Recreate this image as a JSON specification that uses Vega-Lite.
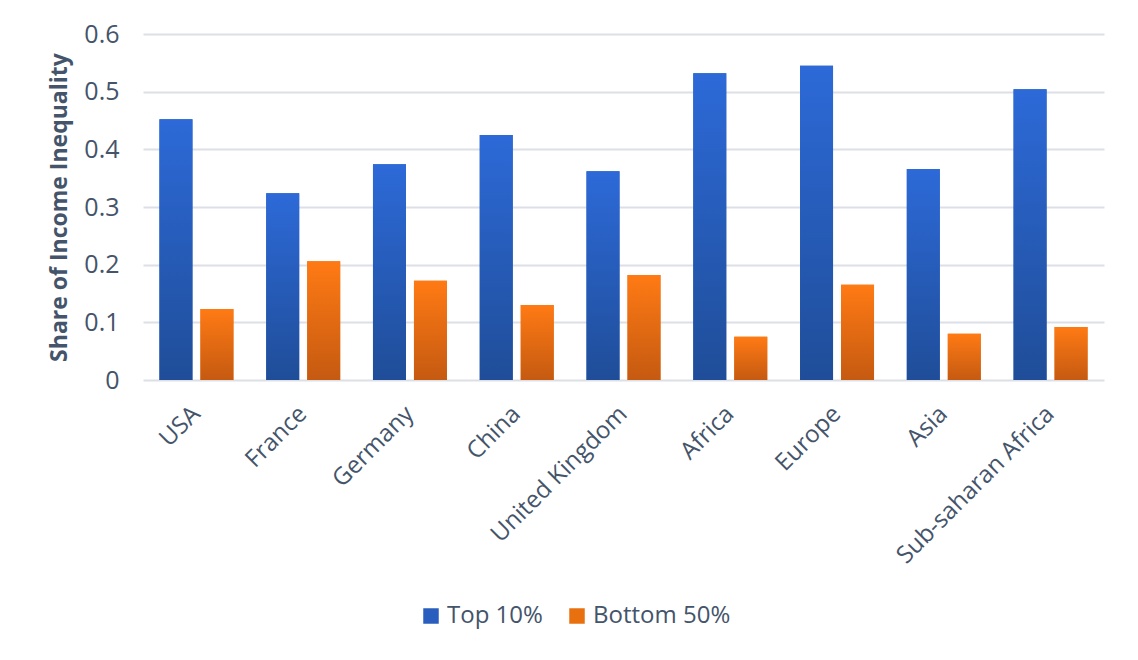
{
  "$schema": "https://vega.github.io/schema/vega-lite/v6.json",
  "width": 961,
  "height": 346,
  "autosize": {"type": "none"},
  "padding": {"left": 143, "top": 34, "right": 34, "bottom": 280},
  "background": "#ffffff",
  "config": {
    "font": "Open Sans",
    "view": {"stroke": null},
    "axis": {"labelColor": "#44546A", "titleColor": "#44546A"}
  },
  "data": {
    "values": [
      {"country": "USA", "series": "Top 10%", "value": 0.452},
      {"country": "USA", "series": "Bottom 50%", "value": 0.123},
      {"country": "France", "series": "Top 10%", "value": 0.324},
      {"country": "France", "series": "Bottom 50%", "value": 0.206},
      {"country": "Germany", "series": "Top 10%", "value": 0.374},
      {"country": "Germany", "series": "Bottom 50%", "value": 0.172},
      {"country": "China", "series": "Top 10%", "value": 0.425},
      {"country": "China", "series": "Bottom 50%", "value": 0.130},
      {"country": "United Kingdom", "series": "Top 10%", "value": 0.362},
      {"country": "United Kingdom", "series": "Bottom 50%", "value": 0.182},
      {"country": "Africa", "series": "Top 10%", "value": 0.532},
      {"country": "Africa", "series": "Bottom 50%", "value": 0.075},
      {"country": "Europe", "series": "Top 10%", "value": 0.545},
      {"country": "Europe", "series": "Bottom 50%", "value": 0.165},
      {"country": "Asia", "series": "Top 10%", "value": 0.366},
      {"country": "Asia", "series": "Bottom 50%", "value": 0.080},
      {"country": "Sub-saharan Africa", "series": "Top 10%", "value": 0.504},
      {"country": "Sub-saharan Africa", "series": "Bottom 50%", "value": 0.092}
    ]
  },
  "encoding": {
    "x": {
      "field": "country",
      "type": "nominal",
      "sort": null,
      "scale": {"paddingInner": 0.307, "paddingOuter": 0.154},
      "axis": {
        "title": null,
        "labelAngle": -45,
        "labelAlign": "right",
        "labelBaseline": "middle",
        "labelFontSize": 24,
        "labelPadding": 30,
        "labelLimit": 400,
        "ticks": false,
        "domain": false,
        "grid": false
      }
    },
    "xOffset": {
      "field": "series",
      "type": "nominal",
      "sort": ["Top 10%", "Bottom 50%"],
      "scale": {"paddingInner": 0.195, "paddingOuter": 0}
    },
    "y": {
      "field": "value",
      "type": "quantitative",
      "scale": {"domain": [0, 0.6], "nice": false},
      "axis": {
        "title": "Share of Income Inequality",
        "titleFontSize": 23,
        "titleFontWeight": "bold",
        "titlePadding": 12,
        "values": [0, 0.1, 0.2, 0.3, 0.4, 0.5, 0.6],
        "format": "~g",
        "labelFontSize": 25,
        "labelPadding": 24,
        "ticks": false,
        "domain": false,
        "grid": true,
        "gridColor": "#DCE0E6",
        "gridWidth": 2
      }
    }
  },
  "layer": [
    {
      "mark": {"type": "bar"},
      "encoding": {
        "color": {
          "field": "series",
          "type": "nominal",
          "sort": ["Top 10%", "Bottom 50%"],
          "scale": {"domain": ["Top 10%", "Bottom 50%"], "range": ["#2A5EBE", "#E8700F"]},
          "legend": {
            "title": null,
            "orient": "none",
            "legendX": 276,
            "legendY": 570,
            "direction": "horizontal",
            "symbolType": "square",
            "symbolSize": 240,
            "symbolStrokeWidth": 0,
            "labelFontSize": 24,
            "labelColor": "#44546A",
            "columnPadding": 22,
            "labelOffset": 4
          }
        }
      }
    },
    {
      "transform": [{"filter": "datum.series === 'Top 10%'"}],
      "mark": {
        "type": "bar",
        "color": {
          "gradient": "linear", "x1": 0, "y1": 0, "x2": 0, "y2": 1,
          "stops": [{"offset": 0, "color": "#2D6AD8"}, {"offset": 1, "color": "#1F4D98"}]
        }
      }
    },
    {
      "transform": [{"filter": "datum.series === 'Bottom 50%'"}],
      "mark": {
        "type": "bar",
        "color": {
          "gradient": "linear", "x1": 0, "y1": 0, "x2": 0, "y2": 1,
          "stops": [{"offset": 0, "color": "#FF7A14"}, {"offset": 1, "color": "#C55A11"}]
        }
      }
    }
  ]
}
